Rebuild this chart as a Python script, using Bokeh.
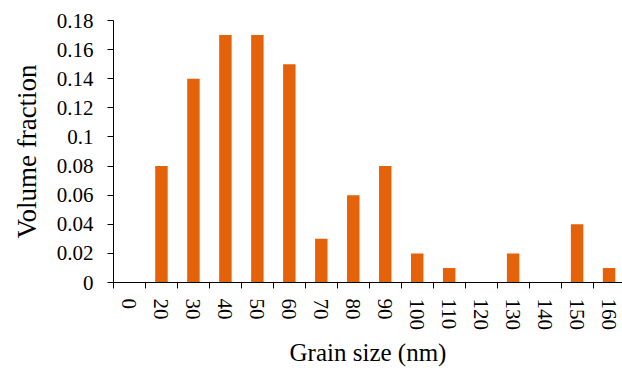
from bokeh.plotting import figure
from bokeh.models import Range1d, FixedTicker, ColumnDataSource
from bokeh.embed import file_html
from bokeh.resources import INLINE

categories = ["0", "20", "30", "40", "50", "60", "70", "80", "90", "100",
              "110", "120", "130", "140", "150", "160"]
volume_fraction = [0.0, 0.08, 0.14, 0.17, 0.17, 0.15, 0.03, 0.06, 0.08, 0.02,
                   0.01, 0.0, 0.02, 0.0, 0.04, 0.01]
y_ticks = [0.0, 0.02, 0.04, 0.06, 0.08, 0.10, 0.12, 0.14, 0.16, 0.18]
y_tick_labels = ["0", "0.02", "0.04", "0.06", "0.08", "0.1", "0.12", "0.14", "0.16", "0.18"]

n = len(categories)
centers = [i + 0.5 for i in range(n)]
bounds = [float(i) for i in range(n + 1)]

src = ColumnDataSource(dict(x=centers, top=volume_fraction, cat=categories))

p = figure(width=622, height=374, output_backend="svg", toolbar_location=None,
           x_range=Range1d(0, 15.92), y_range=Range1d(0, 0.18),
           min_border_left=113, min_border_right=0, min_border_top=20,
           min_border_bottom=92)
p.outline_line_color = None
p.background_fill_color = "white"
p.border_fill_color = "white"
p.grid.visible = False

p.vbar(x="x", top="top", width=0.39, source=src, fill_color="#E3620A",
       line_color=None)

font = "Liberation Serif"

xa = p.xaxis[0]
xa.ticker = FixedTicker(ticks=centers, minor_ticks=bounds)
xa.major_label_overrides = {c: lab for c, lab in zip(centers, categories)}
xa.major_label_orientation = "vertical"
xa.major_tick_line_color = None
xa.major_tick_out = 0
xa.major_tick_in = 0
xa.minor_tick_line_color = "black"
xa.minor_tick_out = 6
xa.minor_tick_in = 0
xa.major_label_standoff = 10
xa.axis_label = "Grain size (nm)"
xa.axis_label_standoff = 6
xa.axis_label_text_font = font
xa.axis_label_text_font_style = "normal"
xa.axis_label_text_font_size = "25px"
xa.axis_label_text_color = "black"
xa.major_label_text_font = font
xa.major_label_text_font_size = "21px"
xa.major_label_text_color = "black"
xa.axis_line_color = "black"

ya = p.yaxis[0]
ya.ticker = FixedTicker(ticks=y_ticks, minor_ticks=[])
ya.major_label_overrides = {t: lab for t, lab in zip(y_ticks, y_tick_labels)}
ya.major_tick_out = 6
ya.major_tick_in = 0
ya.major_tick_line_color = "black"
ya.minor_tick_line_color = None
ya.major_label_standoff = 14
ya.axis_label = "Volume fraction"
ya.axis_label_standoff = 12
ya.axis_label_text_font = font
ya.axis_label_text_font_style = "normal"
ya.axis_label_text_font_size = "27px"
ya.axis_label_text_color = "black"
ya.major_label_text_font = font
ya.major_label_text_font_size = "21px"
ya.major_label_text_color = "black"
ya.axis_line_color = "black"

open("out.html", "w").write(file_html(p, INLINE))
